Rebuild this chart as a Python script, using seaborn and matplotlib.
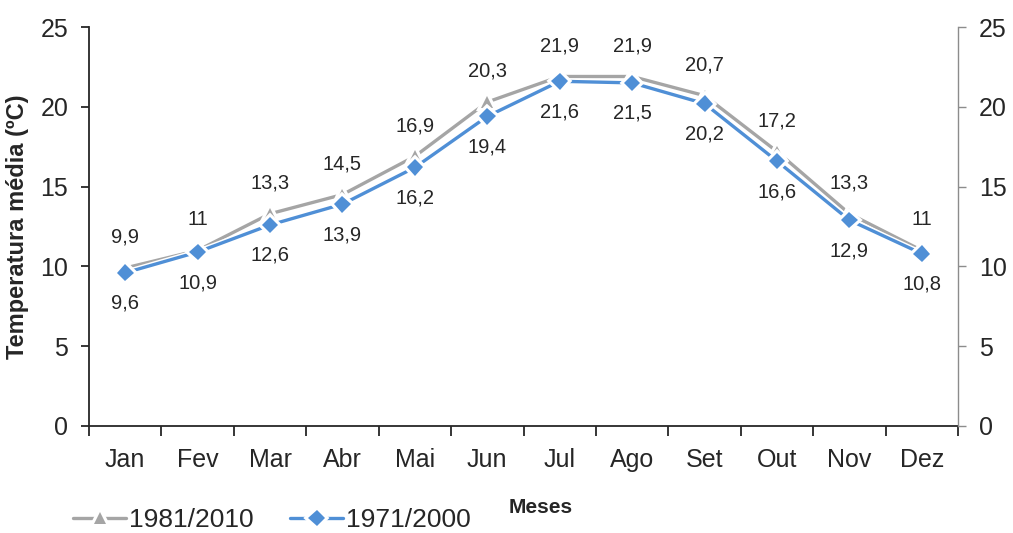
import matplotlib
matplotlib.use("Agg")
import matplotlib.pyplot as plt
import matplotlib.patheffects as pe
from matplotlib.ticker import FixedLocator, MultipleLocator
import numpy as np
import pandas as pd
import seaborn as sns

# Monthly mean temperature (ºC) for two climate normals
months = ["Jan", "Fev", "Mar", "Abr", "Mai", "Jun", "Jul", "Ago", "Set", "Out", "Nov", "Dez"]
normal_1981_2010 = [9.9, 11, 13.3, 14.5, 16.9, 20.3, 21.9, 21.9, 20.7, 17.2, 13.3, 11]
normal_1971_2000 = [9.6, 10.9, 12.6, 13.9, 16.2, 19.4, 21.6, 21.5, 20.2, 16.6, 12.9, 10.8]
series_names = ["1981/2010", "1971/2000"]

df = pd.DataFrame({
    "Mês": months * 2,
    "Temperatura": normal_1981_2010 + normal_1971_2000,
    "Período": [series_names[0]] * 12 + [series_names[1]] * 12,
})

sns.set_theme(style="white")
plt.rcParams["font.family"] = ["Liberation Sans", "DejaVu Sans"]

GRAY = "#A5A5A5"
BLUE = "#4F8FD6"
INK = "#262626"

fig = plt.figure(figsize=(10.13, 5.33), dpi=100)
ax = fig.add_axes([0.0879, 0.2008, 0.8578, 0.7485])

outline = [pe.Stroke(linewidth=4.5, foreground="white"), pe.Normal()]

sns.lineplot(
    data=df, x="Mês", y="Temperatura", hue="Período", style="Período",
    hue_order=series_names, style_order=series_names,
    palette={series_names[0]: GRAY, series_names[1]: BLUE},
    markers={series_names[0]: "^", series_names[1]: "D"},
    dashes=False, linewidth=2.4, markersize=8.5, markeredgewidth=0,
    sort=False, ax=ax, legend=True,
)
for line in ax.lines:
    line.set_path_effects(outline)

ax.set_xlim(-0.5, 11.5)
ax.set_ylim(0, 25)
ax.yaxis.set_major_locator(MultipleLocator(5))

# value labels: newer normal above, older normal below
for i, (a, b) in enumerate(zip(normal_1981_2010, normal_1971_2000)):
    ax.annotate(f"{a:g}".replace(".", ","), (i, a), xytext=(0, 22), textcoords="offset points",
                ha="center", va="center", fontsize=14.5, color=INK)
    ax.annotate(f"{b:g}".replace(".", ","), (i, b), xytext=(0, -22), textcoords="offset points",
                ha="center", va="center", fontsize=14.5, color=INK)

# spines and ticks
for s in ["top", "right"]:
    ax.spines[s].set_visible(False)
for s in ["left", "bottom"]:
    ax.spines[s].set_color(INK)
    ax.spines[s].set_linewidth(1.3)

ax.xaxis.set_minor_locator(FixedLocator(np.arange(-0.5, 12, 1)))
ax.tick_params(axis="x", which="major", length=0, pad=16, labelsize=18, labelcolor=INK)
ax.tick_params(axis="x", which="minor", length=7, width=1.3, color=INK, bottom=True)
ax.tick_params(axis="y", which="major", length=6, width=1.3, color=INK, left=True,
               labelsize=18, labelcolor=INK, pad=9)

ax.set_xlabel("")
ax.set_ylabel("Temperatura média (ºC)", fontsize=17, fontweight="bold", labelpad=8, color=INK)

# secondary axis on the right, same scale
ax2 = ax.twinx()
ax2.set_ylim(ax.get_ylim())
ax2.yaxis.set_major_locator(MultipleLocator(5))
for s in ["top", "left", "bottom"]:
    ax2.spines[s].set_visible(False)
ax2.spines["right"].set_color("#8C8C8C")
ax2.spines["right"].set_linewidth(1.0)
ax2.tick_params(axis="y", length=6, width=1.0, color="#8C8C8C", right=True,
                labelsize=18, labelcolor=INK, pad=9)
ax2.grid(False)
ax.grid(False)

fig.text(0.534, 0.047, "Meses", fontsize=15, fontweight="bold", ha="center", va="center",
         color=INK)

handles, labels = ax.get_legend_handles_labels()
ax.get_legend().remove()
leg = fig.legend(handles, labels, loc="center left", bbox_to_anchor=(0.062, 0.024),
                 ncol=2, frameon=False, fontsize=19, handlelength=2.0, handletextpad=0.1,
                 columnspacing=1.4, borderaxespad=0)
for t in leg.get_texts():
    t.set_color(INK)

fig.savefig("out.png", dpi=100)
